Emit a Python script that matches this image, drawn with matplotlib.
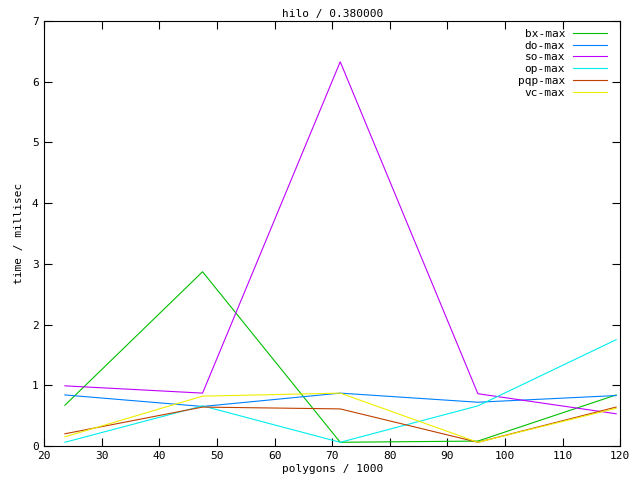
import matplotlib as mpl
mpl.use('Agg')
import matplotlib.pyplot as plt

# polygon counts (thousands) and max times per solver
polygons = [23.6, 47.5, 71.4, 95.3, 119.3]
bx_max = [0.67, 2.87, 0.06, 0.08, 0.84]
do_max = [0.84, 0.65, 0.87, 0.72, 0.83]
so_max = [0.99, 0.87, 6.33, 0.86, 0.53]
op_max = [0.06, 0.66, 0.06, 0.66, 1.75]
pqp_max = [0.20, 0.64, 0.61, 0.06, 0.64]
vc_max = [0.15, 0.82, 0.87, 0.06, 0.62]

series = [
  ('bx-max', bx_max, '#00c000'),
  ('do-max', do_max, '#0080ff'),
  ('so-max', so_max, '#c000ff'),
  ('op-max', op_max, '#00eeee'),
  ('pqp-max', pqp_max, '#c04000'),
  ('vc-max', vc_max, '#eeee00'),
]

plt.rcParams['font.family'] = 'DejaVu Sans Mono'
plt.rcParams['font.size'] = 8

fig = plt.figure(figsize=(6.4, 4.8), dpi=100)
ax = fig.add_axes([0.069, 0.071, 0.9, 0.885])

for name, vals, col in series:
  ax.plot(polygons, vals, color=col, lw=0.8, label=name)

ax.set_xlim(20, 120)
ax.set_ylim(0, 7)
ax.set_xticks(range(20, 121, 10))
ax.set_yticks(range(0, 8))
ax.tick_params(direction='in', top=True, right=True, length=6, width=0.8, pad=4)
for s in ax.spines.values():
  s.set_linewidth(0.8)

ax.set_title('hilo / 0.380000', fontsize=8, pad=3)
ax.set_xlabel('polygons / 1000', labelpad=2)
ax.set_ylabel('time / millisec', labelpad=6)

ax.legend(loc='upper right', bbox_to_anchor=(0.977, 0.982), frameon=False,
          markerfirst=False, handlelength=3.05, handletextpad=0.72,
          labelspacing=0.16, borderpad=0, borderaxespad=0, fontsize=8)

plt.savefig('out.png')
plt.close()
